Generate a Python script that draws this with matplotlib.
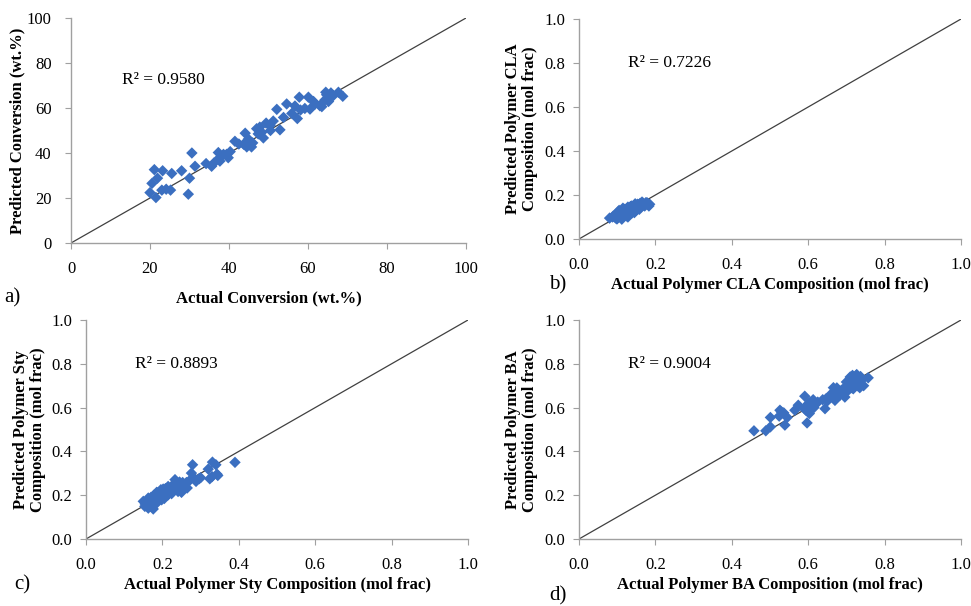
import matplotlib
matplotlib.use('Agg')
import matplotlib.pyplot as plt

plt.rcParams['font.family'] = ['Liberation Serif', 'DejaVu Serif']

# a) conversion (wt.%)
conv_actual = [20.0, 21.1, 20.5, 21.9, 21.5, 23.0, 23.2, 24.1, 25.5, 25.2, 28.0, 30.0,
               29.7, 30.6, 31.4, 34.2, 35.6, 36.2, 37.3, 37.6, 38.6, 39.8, 40.3, 41.5,
               43.7, 44.1, 44.5, 45.7, 44.9, 47.0, 47.4, 48.3, 48.7, 49.4, 50.5, 51.2,
               52.1, 52.9, 53.8, 54.6, 56.7, 57.3, 57.8, 58.1, 59.2, 60.1, 61.4, 61.8,
               63.5, 64.3, 64.5, 65.2, 65.8, 66.4, 67.7, 68.8, 64.7, 65.6, 55.9, 50.4,
               47.8, 39.4, 37.7, 42.5, 46.0, 60.5, 63.0]
conv_pred = [22.4, 32.6, 26.5, 28.8, 20.2, 23.5, 32.1, 23.9, 30.9, 23.5, 32.1, 28.8,
             21.7, 40.0, 34.1, 35.3, 34.1, 35.6, 40.2, 37.9, 39.4, 37.9, 40.6, 45.2,
             43.9, 48.8, 42.7, 42.7, 46.2, 50.8, 48.5, 49.2, 46.7, 53.3, 50.0, 54.2,
             59.4, 50.3, 55.8, 61.8, 60.9, 55.3, 64.8, 59.1, 59.8, 64.8, 62.9, 61.8,
             60.6, 63.6, 67.0, 62.9, 66.7, 65.5, 67.0, 65.2, 65.9, 65.2, 57.6, 52.3,
             51.5, 39.4, 36.4, 44.0, 44.5, 59.5, 61.0]

# b) polymer CLA composition (mol frac)
cla_actual = [0.080, 0.088, 0.095, 0.098, 0.100, 0.102, 0.105, 0.108, 0.110, 0.112,
              0.115, 0.117, 0.120, 0.122, 0.125, 0.127, 0.130, 0.132, 0.135, 0.138,
              0.140, 0.142, 0.145, 0.148, 0.150, 0.153, 0.155, 0.158, 0.160, 0.163,
              0.165, 0.170, 0.175, 0.180, 0.185, 0.105, 0.115, 0.125, 0.135, 0.145,
              0.155, 0.112, 0.128, 0.090, 0.098, 0.103, 0.108, 0.118, 0.122, 0.128,
              0.133, 0.138, 0.143, 0.147, 0.152, 0.157, 0.162, 0.168, 0.172, 0.178,
              0.183]
cla_pred = [0.095, 0.100, 0.098, 0.110, 0.092, 0.118, 0.105, 0.125, 0.112, 0.098,
            0.120, 0.132, 0.108, 0.128, 0.138, 0.115, 0.125, 0.142, 0.130, 0.118,
            0.145, 0.135, 0.150, 0.128, 0.140, 0.158, 0.145, 0.135, 0.162, 0.150,
            0.168, 0.155, 0.165, 0.160, 0.158, 0.130, 0.140, 0.105, 0.148, 0.120,
            0.155, 0.090, 0.100, 0.105, 0.092, 0.125, 0.100, 0.135, 0.115, 0.145,
            0.118, 0.150, 0.128, 0.160, 0.135, 0.155, 0.145, 0.162, 0.150, 0.165,
            0.150]

# c) polymer Sty composition (mol frac)
sty_actual = [0.390, 0.279, 0.331, 0.340, 0.320, 0.343, 0.324, 0.276, 0.296, 0.288,
              0.233, 0.253, 0.263, 0.241, 0.250, 0.265, 0.215, 0.211, 0.202, 0.194,
              0.185, 0.189, 0.204, 0.215, 0.180, 0.172, 0.163, 0.159, 0.150, 0.154,
              0.167, 0.176, 0.185, 0.198, 0.224, 0.237, 0.172, 0.163, 0.228, 0.241,
              0.155, 0.160, 0.165, 0.170, 0.175, 0.178, 0.182, 0.188, 0.192, 0.196,
              0.200, 0.205, 0.208, 0.212, 0.218, 0.222, 0.245, 0.255, 0.270, 0.285,
              0.300, 0.330, 0.345]
sty_pred = [0.350, 0.339, 0.351, 0.339, 0.319, 0.296, 0.275, 0.301, 0.275, 0.263,
            0.271, 0.258, 0.258, 0.240, 0.213, 0.233, 0.240, 0.217, 0.228, 0.217,
            0.213, 0.195, 0.195, 0.202, 0.187, 0.179, 0.187, 0.164, 0.172, 0.149,
            0.149, 0.137, 0.164, 0.179, 0.207, 0.233, 0.161, 0.141, 0.248, 0.217,
            0.160, 0.175, 0.150, 0.190, 0.160, 0.200, 0.175, 0.210, 0.180, 0.225,
            0.205, 0.185, 0.230, 0.200, 0.225, 0.215, 0.260, 0.245, 0.265, 0.275,
            0.280, 0.285, 0.290]

# d) polymer BA composition (mol frac)
ba_actual = [0.458, 0.489, 0.501, 0.501, 0.526, 0.524, 0.539, 0.536, 0.565, 0.574,
             0.597, 0.591, 0.600, 0.611, 0.644, 0.638, 0.666, 0.657, 0.670, 0.683,
             0.696, 0.700, 0.709, 0.716, 0.722, 0.727, 0.735, 0.729, 0.757, 0.718,
             0.705, 0.673, 0.647, 0.621, 0.594, 0.603, 0.613, 0.661, 0.687, 0.714,
             0.737, 0.530, 0.545, 0.590, 0.605, 0.615, 0.625, 0.650, 0.665, 0.675,
             0.690, 0.700, 0.710, 0.720, 0.725, 0.730, 0.740, 0.745, 0.715]
ba_pred = [0.494, 0.494, 0.512, 0.555, 0.588, 0.561, 0.520, 0.576, 0.588, 0.611,
           0.530, 0.652, 0.618, 0.606, 0.595, 0.636, 0.691, 0.648, 0.633, 0.656,
           0.648, 0.717, 0.702, 0.747, 0.724, 0.751, 0.691, 0.730, 0.736, 0.686,
           0.679, 0.671, 0.641, 0.618, 0.588, 0.573, 0.636, 0.664, 0.679, 0.724,
           0.742, 0.580, 0.555, 0.595, 0.625, 0.600, 0.625, 0.630, 0.650, 0.690,
           0.665, 0.700, 0.740, 0.710, 0.745, 0.700, 0.725, 0.700, 0.690]

r2_values = ['0.9580', '0.7226', '0.8893', '0.9004']
panel_tags = ['a)', 'b)', 'c)', 'd)']
x_labels = ['Actual Conversion (wt.%)',
            'Actual Polymer CLA Composition (mol frac)',
            'Actual Polymer Sty Composition (mol frac)',
            'Actual Polymer BA Composition (mol frac)']
y_labels = ['Predicted Conversion (wt.%)',
            'Predicted Polymer CLA\nComposition (mol frac)',
            'Predicted Polymer Sty\nComposition (mol frac)',
            'Predicted Polymer BA\nComposition (mol frac)']

W, H = 971, 606
fig = plt.figure(figsize=(W / 100, H / 100), dpi=100)


def px_axes(x0, y0, x1, y1):
    # pixel box (left, top, right, bottom) -> figure fraction
    return fig.add_axes([x0 / W, 1 - y1 / H, (x1 - x0) / W, (y1 - y0) / H])


boxes = [(71, 18, 466, 243), (579, 19, 961, 239), (86, 320, 468, 539), (579, 320, 961, 539)]
data = [(conv_actual, conv_pred), (cla_actual, cla_pred),
        (sty_actual, sty_pred), (ba_actual, ba_pred)]
ylab_x = [-0.135, -0.15, -0.147, -0.15]
tag_pos = [(-0.148, -0.244), (-0.055, -0.21), (-0.166, -0.21), (-0.055, -0.26)]

for i in range(4):
    ax = px_axes(*boxes[i])
    xs, ys = data[i]
    top = 100 if i == 0 else 1.0
    step = 20 if i == 0 else 0.2
    ax.plot([0, top], [0, top], color='#404040', lw=0.9, zorder=1)
    ax.scatter(xs, ys, marker='D', s=34, color='#3B6FC0', edgecolors='none', zorder=2)
    ax.set_xlim(0, top)
    ax.set_ylim(0, top)
    ticks = [k * step for k in range(6)]
    ax.set_xticks(ticks)
    ax.set_yticks(ticks)
    if i == 0:
        ax.set_xticklabels([str(int(t)) for t in ticks])
        ax.set_yticklabels([str(int(t)) for t in ticks])
    else:
        ax.set_xticklabels(['%.1f' % t for t in ticks])
        ax.set_yticklabels(['%.1f' % t for t in ticks])
    for s in ['top', 'right']:
        ax.spines[s].set_visible(False)
    for s in ['left', 'bottom']:
        ax.spines[s].set_color('#a0a0a0')
        ax.spines[s].set_linewidth(1.0)
    ax.tick_params(direction='out', length=4, color='#a0a0a0', labelsize=12)
    ax.tick_params(axis='x', pad=9)
    ax.tick_params(axis='y', pad=6 if i else 10)

    ax.set_xlabel(x_labels[i], fontsize=12, fontweight='bold')
    ax.xaxis.label.set_va('center')
    ax.xaxis.set_label_coords(0.5, -0.21 if i else -0.244)
    ax.set_ylabel(y_labels[i], fontsize=12, fontweight='bold', linespacing=1.1)
    ax.yaxis.label.set_va('center')
    ax.yaxis.set_label_coords(ylab_x[i], 0.5)

    ax.text(0.128, 0.725 if i == 0 else 0.80, 'R\u00b2 = ' + r2_values[i],
            transform=ax.transAxes, fontsize=12.5, va='center', ha='left')
    ax.text(tag_pos[i][0], tag_pos[i][1], panel_tags[i], transform=ax.transAxes,
            fontsize=15, va='center', ha='center')

fig.savefig('out.png', dpi=100)
